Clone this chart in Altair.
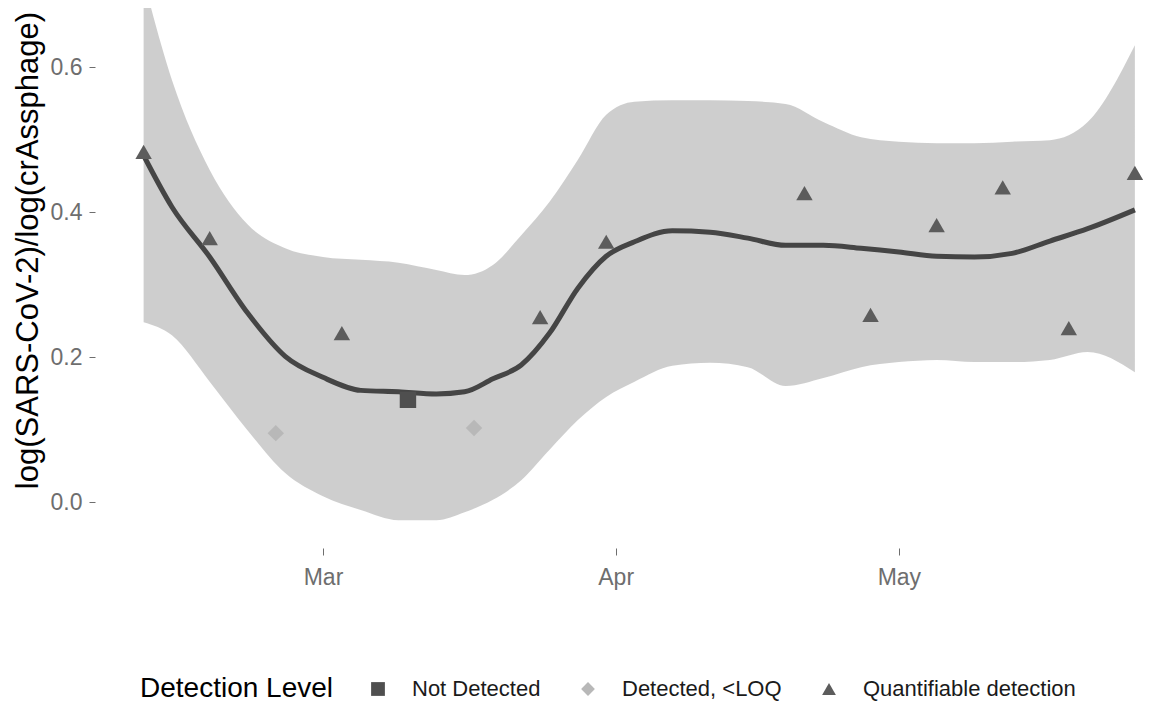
import altair as alt
import pandas as pd

# ---- data ----
smooth_dates = ["2020-02-11", "2020-02-14", "2020-02-18", "2020-02-22", "2020-02-26",
                "2020-03-01", "2020-03-05", "2020-03-09", "2020-03-13", "2020-03-16",
                "2020-03-19", "2020-03-22", "2020-03-25", "2020-03-28", "2020-03-31",
                "2020-04-03", "2020-04-07", "2020-04-11", "2020-04-15", "2020-04-19",
                "2020-04-23", "2020-04-27", "2020-05-01", "2020-05-05", "2020-05-09",
                "2020-05-13", "2020-05-17", "2020-05-21", "2020-05-26"]
fit = [0.478, 0.407, 0.338, 0.261, 0.201, 0.172, 0.154, 0.152, 0.149, 0.152,
       0.170, 0.189, 0.233, 0.295, 0.339, 0.359, 0.374, 0.372, 0.364, 0.354,
       0.354, 0.350, 0.345, 0.339, 0.338, 0.343, 0.360, 0.377, 0.403]
upper = [0.720, 0.582, 0.458, 0.383, 0.350, 0.338, 0.334, 0.330, 0.320, 0.313,
         0.327, 0.368, 0.414, 0.472, 0.534, 0.552, 0.554, 0.554, 0.553, 0.549,
         0.524, 0.503, 0.497, 0.495, 0.495, 0.497, 0.499, 0.524, 0.630]
lower = [0.248, 0.230, 0.166, 0.099, 0.040, 0.008, -0.011, -0.025, -0.025, -0.014,
         0.003, 0.030, 0.072, 0.113, 0.145, 0.166, 0.188, 0.192, 0.186, 0.160,
         0.171, 0.186, 0.193, 0.196, 0.193, 0.193, 0.196, 0.207, 0.179]

pt_dates = ["2020-02-11", "2020-02-18", "2020-02-25", "2020-03-03", "2020-03-10",
            "2020-03-17", "2020-03-24", "2020-03-31", "2020-04-21", "2020-04-28",
            "2020-05-05", "2020-05-12", "2020-05-19", "2020-05-26"]
pt_vals = [0.483, 0.364, 0.095, 0.233, 0.141, 0.102, 0.255, 0.359, 0.426, 0.258,
           0.382, 0.434, 0.240, 0.454]
pt_levels = ["Quantifiable detection", "Quantifiable detection", "Detected, <LOQ",
             "Quantifiable detection", "Not Detected", "Detected, <LOQ",
             "Quantifiable detection", "Quantifiable detection", "Quantifiable detection",
             "Quantifiable detection", "Quantifiable detection", "Quantifiable detection",
             "Quantifiable detection", "Quantifiable detection"]

level_order = ["Not Detected", "Detected, <LOQ", "Quantifiable detection"]
level_shapes = ["square", "diamond", "triangle-up"]
level_colors = ["#4f4f4f", "#b8b8b8", "#5c5c5c"]

smooth_df = pd.DataFrame({
    "date": [d + "T00:00:00" for d in smooth_dates],
    "fit": fit, "upper": upper, "lower": lower,
})
pts_df = pd.DataFrame({
    "date": [d + "T00:00:00" for d in pt_dates],
    "ratio": pt_vals, "level": pt_levels,
})

FONT = "Liberation Sans"

x_scale = alt.Scale(domain=[alt.DateTime(year=2020, month=2, date=5, hours=20, minutes=24),
                            alt.DateTime(year=2020, month=5, date=26, hours=20, minutes=38)])
y_scale = alt.Scale(domain=[-0.0634, 0.6814], nice=False, zero=False)

x_axis = alt.Axis(
    title=None, format="%b",
    values=[alt.DateTime(year=2020, month=3, date=1),
            alt.DateTime(year=2020, month=4, date=1),
            alt.DateTime(year=2020, month=5, date=1)],
    grid=False, domain=False, ticks=True, tickSize=7, tickColor="#6e6e6e",
    labelFont=FONT, labelFontSize=23, labelColor="#6e6e6e", labelPadding=11,
)
y_axis = alt.Axis(
    title="log(SARS-CoV-2)/log(crAssphage)", values=[0.0, 0.2, 0.4, 0.6], format=".1f",
    grid=False, domain=False, ticks=True, tickSize=6, tickColor="#6e6e6e",
    labelFont=FONT, labelFontSize=23, labelColor="#6e6e6e", labelPadding=7,
    titleFont=FONT, titleFontSize=31, titleFontWeight="normal", titleColor="#000000",
    titleX=-67, titleY=242, titleAngle=270, titleAlign="center", titleBaseline="middle",
    titleLimit=0,
)

band = alt.Chart(smooth_df).mark_area(color="#c2c2c2", opacity=0.8, clip=True,
                                      interpolate="monotone").encode(
    x=alt.X("date:T", scale=x_scale, axis=x_axis),
    y=alt.Y("upper:Q", scale=y_scale, axis=y_axis),
    y2="lower:Q",
)

line = alt.Chart(smooth_df).mark_line(color="#454545", strokeWidth=5, clip=True,
                                      interpolate="monotone").encode(
    x=alt.X("date:T", scale=x_scale),
    y=alt.Y("fit:Q", scale=y_scale),
)

points = alt.Chart(pts_df).mark_point(filled=True, size=270, opacity=1, clip=True).encode(
    x=alt.X("date:T", scale=x_scale),
    y=alt.Y("ratio:Q", scale=y_scale),
    shape=alt.Shape("level:N", scale=alt.Scale(domain=level_order, range=level_shapes),
                    title="Detection Level"),
    color=alt.Color("level:N", scale=alt.Scale(domain=level_order, range=level_colors),
                    title="Detection Level"),
)

chart = alt.layer(band, line, points).properties(
    width=1048, height=540,
    autosize=alt.AutoSizeParams(type="none"),
    padding={"left": 87, "top": 0, "right": 0, "bottom": 162},
).configure_view(stroke=None).configure_legend(
    orient="none", legendX=45, legendY=670, direction="horizontal",
    titleOrient="left", titleFont=FONT, titleFontSize=28, titleFontWeight="normal",
    titleColor="#000000", titlePadding=33, titleLimit=0,
    labelFont=FONT, labelFontSize=22, labelColor="#1a1a1a", labelOffset=23, labelLimit=0,
    symbolSize=190, symbolStrokeWidth=0, columnPadding=36, symbolType="square",
)

chart.save("out.html", embed_options={"renderer": "svg", "actions": False})
